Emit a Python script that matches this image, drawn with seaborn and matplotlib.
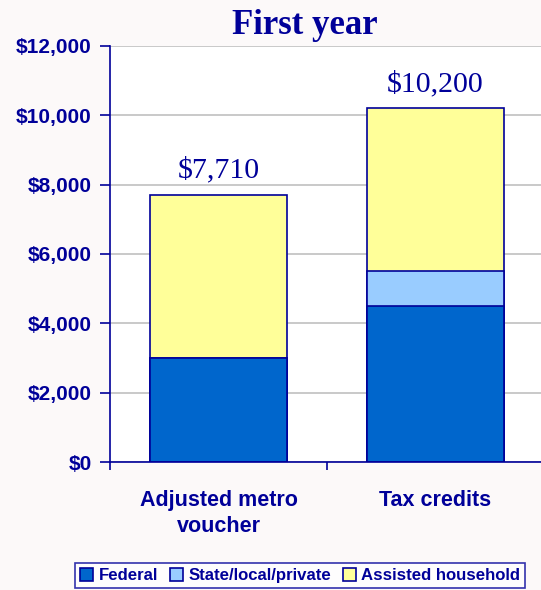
import matplotlib
matplotlib.use("Agg")
import matplotlib.pyplot as plt
import pandas as pd
import seaborn as sns
from matplotlib.patches import Patch
from matplotlib.ticker import FuncFormatter, FixedLocator

categories = ["Adjusted metro\nvoucher", "Tax credits"]
federal = [3000, 4500]
state_local = [0, 1000]
household = [4710, 4700]
totals_text = ["$7,710", "$10,200"]
series_names = ["Federal", "State/local/private", "Assisted household"]
colors = ["#0066CC", "#99CCFF", "#FFFF99"]

NAVY = "#000099"

sns.set_style("white")
plt.rcParams["font.family"] = ["Liberation Sans", "DejaVu Sans"]

df = pd.DataFrame({
    "category": categories,
    "federal": federal,
    "state": state_local,
    "household": household,
})
df["lvl1"] = df["federal"]
df["lvl2"] = df["federal"] + df["state"]
df["lvl3"] = df["lvl2"] + df["household"]

fig = plt.figure(figsize=(5.41, 5.90), dpi=100, facecolor="#fcf9f9")
ax = fig.add_axes([110 / 541, 128 / 590, 434 / 541, 416 / 590])
ax.set_facecolor("white")

# stacked bars: draw the tallest level first, then cover with lower levels
for col, color in zip(["lvl3", "lvl2", "lvl1"], colors[::-1]):
    sns.barplot(data=df, x="category", y=col, color=color, width=0.63,
                edgecolor=NAVY, linewidth=1.2, ax=ax, saturation=1)

for i, txt in enumerate(totals_text):
    ax.text(i, df["lvl3"][i] + 330, txt, ha="center", va="bottom",
            family=["Liberation Serif", "DejaVu Serif"], fontsize=21.5, color=NAVY)

ax.set_ylim(0, 12000)
ax.set_xlim(-0.5, 1.5)
ax.yaxis.set_major_locator(FixedLocator(range(0, 12001, 2000)))
ax.yaxis.set_major_formatter(FuncFormatter(lambda v, _: f"${v:,.0f}"))
ax.grid(axis="y", color="#c0c0c0", linewidth=1.2)
ax.set_axisbelow(True)

ax.set_xticks([0, 1])
ax.set_xticklabels(categories, fontsize=15.5, fontweight="bold", color=NAVY,
                   linespacing=1.35)
ax.set_xticks([-0.5, 0.5, 1.5], minor=True)
ax.tick_params(axis="x", which="major", bottom=False, length=0, pad=20)
ax.tick_params(axis="x", which="minor", bottom=True, length=6, width=1.2,
               color=NAVY, direction="out")
ax.tick_params(axis="y", left=True, length=7, width=1.2, color=NAVY,
               direction="out", pad=6, labelsize=15, labelcolor=NAVY)
for lbl in ax.get_yticklabels():
    lbl.set_fontweight("bold")

ax.set_xlabel("")
ax.set_ylabel("")
for side in ["top", "right"]:
    ax.spines[side].set_visible(False)
for side in ["left", "bottom"]:
    ax.spines[side].set_color(NAVY)
    ax.spines[side].set_linewidth(1.2)

fig.text(305 / 541, 1 - 26 / 590, "First year", ha="center", va="center",
         family=["Liberation Serif", "DejaVu Serif"], fontsize=25,
         fontweight="bold", color=NAVY)

handles = [Patch(facecolor=c, edgecolor=NAVY, linewidth=1.2) for c in colors]
leg = fig.legend(handles, series_names, loc="upper left", ncol=3,
                 bbox_to_anchor=(75 / 541, 1 - 563 / 590), frameon=True,
                 fancybox=False, borderpad=0.3, borderaxespad=0,
                 handlelength=0.8, handleheight=0.8, handletextpad=0.3,
                 columnspacing=0.7, prop={"size": 12.1, "weight": "bold"})
leg.get_frame().set_edgecolor(NAVY)
leg.get_frame().set_linewidth(1.2)
for t in leg.get_texts():
    t.set_color(NAVY)

fig.savefig("out.png", dpi=100, facecolor=fig.get_facecolor())
